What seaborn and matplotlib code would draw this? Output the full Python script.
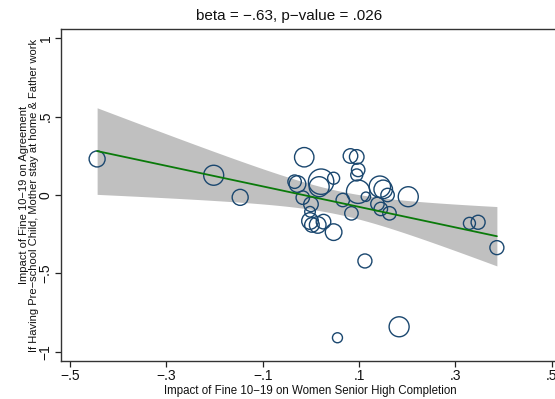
import matplotlib
matplotlib.use("Agg")
import matplotlib.pyplot as plt
import seaborn as sns
import numpy as np
import pandas as pd
from math import erf

# ---- data ----
impact_shs = [-0.444, -0.202, -0.147, -0.014, -0.034, -0.028, 0.021, 0.017, 0.047,
              -0.017, 0.000, -0.002, -0.002, 0.002, 0.014, 0.026, 0.047, 0.066,
              0.084, 0.082, 0.095, 0.098, 0.095, 0.098, 0.114, 0.143, 0.150,
              0.159, 0.138, 0.145, 0.163, 0.202, 0.055, 0.112, 0.183, 0.329,
              0.347, 0.386]
impact_agree = [0.230, 0.126, -0.015, 0.241, 0.085, 0.070, 0.085, 0.053, 0.107,
                -0.017, -0.059, -0.107, -0.166, -0.191, -0.191, -0.170, -0.237, -0.032,
                -0.117, 0.249, 0.243, 0.160, 0.128, 0.021, -0.011, 0.053, 0.036,
                0.000, -0.057, -0.089, -0.117, -0.011, -0.911, -0.421, -0.841, -0.181,
                -0.174, -0.336]
weight = [64, 100, 64, 94, 45, 69, 161, 100, 36,
          45, 53, 28, 69, 53, 69, 53, 69, 45,
          45, 53, 53, 45, 36, 137, 22, 114, 86,
          45, 45, 45, 45, 100, 25, 49, 100, 36,
          49, 49]

title_text = "beta = \u2212.63, p\u2212value = .026"
xlabel_text = "Impact of Fine 10\u221219 on Women Senior High Completion"
ylabel_text = ("Impact of Fine 10\u221219 on Agreement\n"
               "If Having Pre\u2212school Child, Mother stay at home & Father work")
xticks = [-0.5, -0.3, -0.1, 0.1, 0.3, 0.5]
xtick_labels = ["\u2212.5", "\u2212.3", "\u2212.1", ".1", ".3", ".5"]
yticks = [-1, -0.5, 0, 0.5, 1]
ytick_labels = ["\u22121", "\u2212.5", "0", ".5", "1"]

df = pd.DataFrame({"x": impact_shs, "y": impact_agree, "w": weight})

# ---- weighted (analytic-weight) linear fit with 95% CI, as Stata lfitci ----
x = df["x"].to_numpy(); y = df["y"].to_numpy()
w = df["w"].to_numpy(float); w = w * len(w) / w.sum()
X = np.column_stack([np.ones_like(x), x])
XtWX = X.T @ (X * w[:, None])
beta = np.linalg.solve(XtWX, X.T @ (w * y))
resid = y - X @ beta
dof = len(x) - 2
s2 = np.sum(w * resid ** 2) / dof
cov = s2 * np.linalg.inv(XtWX)
tcrit = 2.028  # t(0.975, 36)
grid = np.linspace(x.min(), x.max(), 100)
G = np.column_stack([np.ones_like(grid), grid])
fit = G @ beta
se = np.sqrt(np.einsum("ij,jk,ik->i", G, cov, G))
fit_df = pd.DataFrame({"x": grid, "fit": fit, "lo": fit - tcrit * se,
                       "hi": fit + tcrit * se})

sns.set_theme(style="white")
plt.rcParams["font.family"] = ["Liberation Sans", "DejaVu Sans"]

W, H = 555, 399
fig = plt.figure(figsize=(W / 100, H / 100), dpi=100)
left_px, right_px, top_px, bot_px = 61, 559, 29, 361
ax = fig.add_axes([left_px / W, 1 - bot_px / H, (right_px - left_px) / W,
                   (bot_px - top_px) / H])

ax.fill_between(fit_df["x"], fit_df["lo"], fit_df["hi"], color="#c0c0c0",
                linewidth=0, zorder=1)
sns.lineplot(data=fit_df, x="x", y="fit", color="#0a7a0a", linewidth=1.3,
             ax=ax, zorder=4)

# weighted hollow circles
px2pt = 72 / 100
def area(r):
    return (2 * r * px2pt) ** 2
wmin, wmax = min(weight), max(weight)
sns.scatterplot(data=df, x="x", y="y", size="w",
                sizes=(area(np.sqrt(wmin)), area(np.sqrt(wmax))),
                size_norm=(wmin, wmax), legend=False,
                facecolors="none", edgecolor="#1a476f", linewidth=1.0,
                ax=ax, zorder=3)

ax.set_xlim(-0.519, -0.5 + (right_px - 70.3) / 481.5)
ax.set_ylim((195 - bot_px) / 156.7, (195 - top_px) / 156.7)

ax.set_xticks(xticks)
ax.set_xticklabels(xtick_labels)
ax.set_yticks(yticks)
ax.set_yticklabels(ytick_labels, rotation=90, va="center")
ax.tick_params(axis="both", direction="out", length=4, width=0.9,
               color="#222222", labelsize=10, pad=2, labelcolor="#111111")
ax.tick_params(axis="x", bottom=True)
ax.tick_params(axis="y", left=True)

for side in ["left", "bottom", "top"]:
    ax.spines[side].set_visible(True)
    ax.spines[side].set_color("#333333")
    ax.spines[side].set_linewidth(1.0)
ax.spines["right"].set_visible(False)
ax.grid(False)

ax.set_xlabel(xlabel_text, fontsize=8.3, labelpad=1, color="#111111")
ax.set_ylabel(ylabel_text, fontsize=8, labelpad=0, color="#111111",
              linespacing=1.0)
fig.text(289 / W, 1 - 16 / H, title_text, ha="center", va="center",
         fontsize=11, color="#111111")

fig.savefig("out.png", dpi=100, facecolor="white")
